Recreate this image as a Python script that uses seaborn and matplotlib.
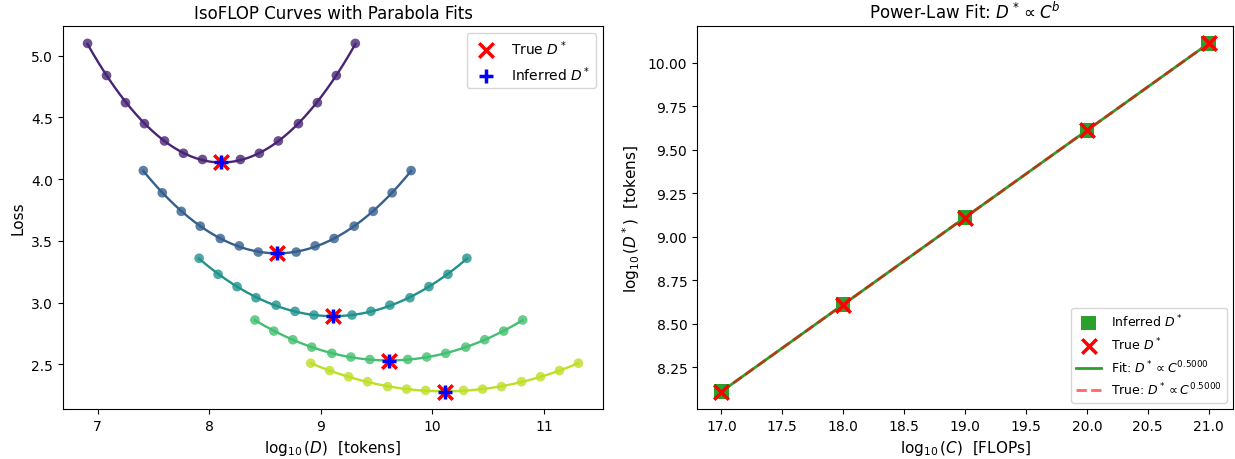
import numpy as np
import pandas as pd
import seaborn as sns
import matplotlib
matplotlib.use('Agg')
import matplotlib.pyplot as plt

# compute budgets (log10 FLOPs) and the true optimal log10(D*) for each
log_c = [17, 18, 19, 20, 21]
true_opt = [8.11, 8.61, 9.11, 9.61, 10.11]

# 15 sampled log10(D) offsets around each optimum
offsets = [-1.2, -1.03, -0.86, -0.69, -0.51, -0.34, -0.17, 0.0,
           0.17, 0.34, 0.51, 0.69, 0.86, 1.03, 1.2]

# losses
loss_17 = [5.10, 4.84, 4.62, 4.45, 4.31, 4.21, 4.16, 4.14, 4.16, 4.21, 4.31, 4.45, 4.62, 4.84, 5.10]
loss_18 = [4.07, 3.89, 3.74, 3.62, 3.52, 3.46, 3.41, 3.40, 3.41, 3.46, 3.52, 3.62, 3.74, 3.89, 4.07]
loss_19 = [3.36, 3.23, 3.13, 3.04, 2.98, 2.93, 2.90, 2.89, 2.90, 2.93, 2.98, 3.04, 3.13, 3.23, 3.36]
loss_20 = [2.86, 2.77, 2.70, 2.64, 2.59, 2.56, 2.54, 2.53, 2.54, 2.56, 2.59, 2.64, 2.70, 2.77, 2.86]
loss_21 = [2.51, 2.45, 2.40, 2.36, 2.32, 2.30, 2.29, 2.28, 2.29, 2.30, 2.32, 2.36, 2.40, 2.45, 2.51]
losses = [loss_17, loss_18, loss_19, loss_20, loss_21]

colors = plt.cm.viridis(np.linspace(0.1, 0.9, len(log_c)))

fig = plt.figure(figsize=(12.35, 4.6), dpi=100)
ax1 = fig.add_axes([63 / 1235, 50 / 460, 540 / 1235, 383 / 460])
ax2 = fig.add_axes([697 / 1235, 50 / 460, 536 / 1235, 383 / 460])

inferred = []
true_loss = []
for i in range(len(log_c)):
    x = np.array(offsets) + true_opt[i]
    y = np.array(losses[i])
    sns.scatterplot(x=x, y=y, color=colors[i], s=48, alpha=0.8, edgecolor='none', ax=ax1)
    # parabola fit
    a, b, c = np.polyfit(x, y, 2)
    xs = np.linspace(x.min(), x.max(), 200)
    sns.lineplot(x=xs, y=a * xs**2 + b * xs + c, color=colors[i], linewidth=1.7, ax=ax1)
    inferred.append(-b / (2 * a))
    true_loss.append(y.min())

ax1.scatter(true_opt, true_loss, marker='x', color='red', s=110, linewidths=2.5, zorder=5, label='True $D^*$')
ax1.scatter(inferred, true_loss, marker='+', color='blue', s=110, linewidths=2.5, zorder=6, label='Inferred $D^*$')
ax1.set_xlabel(r'$\log_{10}(D)$  [tokens]', fontsize=11)
ax1.set_ylabel('Loss', fontsize=11)
ax1.set_title('IsoFLOP Curves with Parabola Fits', fontsize=12)
ax1.legend(loc='upper right', fontsize=10)

# power law fit
slope, intercept = np.polyfit(log_c, inferred, 1)
true_slope, true_int = np.polyfit(log_c, true_opt, 1)
cs = np.array(log_c, dtype=float)
df = pd.DataFrame({'log_c': log_c, 'inferred': inferred, 'true': true_opt})
sns.scatterplot(data=df, x='log_c', y='inferred', marker='s', color='#2ca02c', s=110, edgecolor='none',
                zorder=3, label='Inferred $D^*$', ax=ax2)
sns.scatterplot(data=df, x='log_c', y='true', marker='x', color='red', s=110, linewidth=2.5,
                zorder=4, label='True $D^*$', ax=ax2)
sns.lineplot(x=cs, y=slope * cs + intercept, color='#2ca02c', linewidth=2,
             label=f'Fit: $D^* \\propto C^{{{slope:.4f}}}$', ax=ax2)
sns.lineplot(x=cs, y=true_slope * cs + true_int, color='red', linestyle='--', alpha=0.6, linewidth=2,
             label=f'True: $D^* \\propto C^{{{true_slope:.4f}}}$', ax=ax2)
ax2.set_xlabel(r'$\log_{10}(C)$  [FLOPs]', fontsize=11)
ax2.set_ylabel(r'$\log_{10}(D^*)$  [tokens]', fontsize=11)
ax2.set_title(r'Power-Law Fit: $D^* \propto C^b$', fontsize=12)
ax2.set_xticks(np.arange(17, 21.01, 0.5))
ax2.legend(loc='lower right', fontsize=9)

fig.savefig('out.png', dpi=100)
